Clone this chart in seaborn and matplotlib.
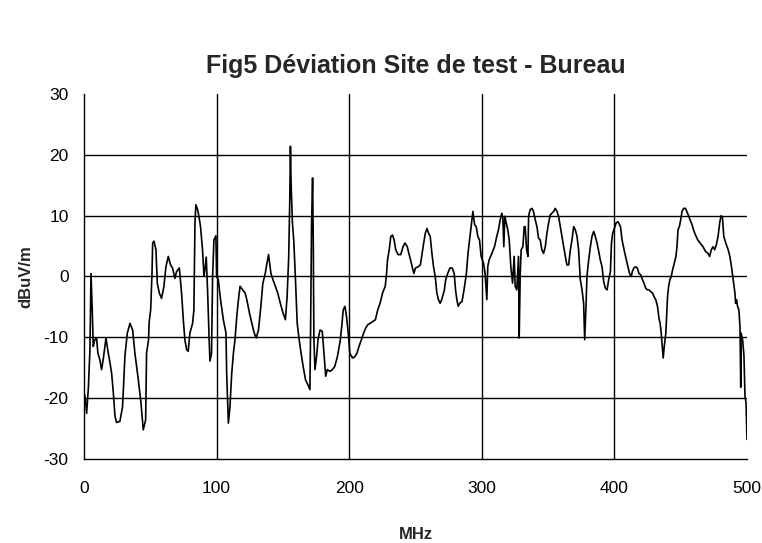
import pandas as pd
import matplotlib
matplotlib.use('Agg')
import matplotlib.pyplot as plt
import seaborn as sns

# valeurs (MHz, dBuV/m)
mhz = [0, 1, 2, 3.3, 4.5, 5.3, 6.3, 7, 8, 9.5, 10.5, 12, 13.3, 14.6, 16.6, 18.3,
       19.5, 20.9, 22.1, 23.4, 24.6, 27.1, 29.1, 30.9, 32.7, 34.7, 36.7, 38.4,
       41, 43, 44.7, 46.5, 47.2, 48.7, 49.2, 50.3, 51.3, 51.8, 52.8, 54.3, 55.3,
       56.8, 58.5, 60.3, 61.8, 63.6, 65.3, 66.8, 68.6, 69.8, 71.9, 73.6, 74.9,
       76.1, 77.4, 78.6, 79.9, 81.9, 82.9, 83.7, 84.4, 85.7, 86.9, 87.9, 89.4,
       90.5, 91.2, 92.2, 93.2, 94.4, 95, 96.2, 97, 98, 99.5, 100, 101.3, 103,
       105.1, 107.1, 107.6, 108.9, 110.1, 111.4, 112.7, 113.9, 115.2, 116.5,
       117.7, 119.7, 121.5, 122.8, 124.8, 126.6, 128.4, 129.9, 131.6, 133.4,
       134.9, 136.7, 138, 139.2, 140, 141, 142.5, 144.3, 146.1, 148.1, 150.1,
       151.9, 153.2, 154.4, 155.2, 155.7, 156.2, 157.2, 158.2, 159.5, 160.8,
       162, 163.3, 165.3, 167.1, 168.9, 170.4, 170.9, 171.6, 172.4, 172.9,
       173.4, 174.2, 175.4, 176.5, 178, 179.7, 181, 182.3, 183.5, 185.6, 187.3,
       189.1, 191.1, 193.2, 194.4, 195.5, 196.8, 198, 199.3, 200.5, 202.5,
       204.2, 205.9, 207.4, 209.2, 210.9, 212.4, 214.1, 215.8, 217.8, 219.8,
       221.5, 223.3, 225.2, 227.2, 228.2, 228.9, 230.2, 231.4, 232.7, 233.9,
       235.1, 236.9, 238.9, 240.6, 242.1, 243.8, 245, 246.3, 247.5, 248.8, 250,
       252, 253.7, 255, 256.2, 257.4, 258.7, 259.9, 261.1, 262.4, 263.6, 264.9,
       266.1, 267.3, 268.6, 269.8, 271.8, 272.8, 274.3, 276, 277.7, 279.2,
       280.2, 281.2, 282.2, 283.4, 285.1, 286.6, 288.4, 289.6, 290.8, 292.1,
       293.3, 294.6, 295.8, 297, 298.3, 299.5, 301.3, 302.5, 303.8, 304.5,
       305.5, 307.6, 309.6, 311.3, 312.6, 313.9, 315.1, 315.9, 316.6, 317.4,
       318.4, 319.6, 320.7, 321.9, 323.2, 324.4, 325.2, 326.4, 327.7, 328.2,
       329, 329.7, 331, 332, 332.7, 333.8, 334.8, 335.3, 336.5, 337.8, 339,
       340.3, 341.6, 342.8, 344.1, 345.3, 346.6, 347.9, 349.1, 350.4, 351.6,
       352.9, 354.2, 355.4, 356.7, 357.9, 359.2, 360.5, 361.7, 363, 364.2,
       365.5, 366.8, 368, 369.3, 370.5, 371.8, 373, 374.3, 375.6, 376.8, 377.6,
       378.6, 379.3, 380.6, 381.9, 383.1, 384.4, 385.6, 386.9, 388.2, 389.4,
       390.7, 391.9, 393.2, 394.5, 395.7, 397, 397.8, 398.7, 400, 401.3, 402.8,
       404.6, 405.8, 407.9, 409.6, 411.4, 412.7, 413.5, 414.7, 416, 417.3,
       418.5, 419.8, 421.1, 422.3, 423.6, 424.9, 426.1, 427.4, 428.7, 429.9,
       431.2, 432.5, 433.8, 434.5, 435.3, 436.3, 436.8, 437.6, 438.8, 440.1,
       440.9, 441.9, 442.9, 443.9, 445.2, 446.4, 447.2, 448, 449, 450, 451,
       452.3, 453.6, 454.6, 456.1, 457.1, 458.6, 459.6, 461.2, 462.9, 464.7,
       466.8, 468.8, 470.6, 471.8, 473.1, 474.4, 475.6, 476.9, 478.2, 479.4,
       480.5, 481.5, 482.5, 484, 485.8, 487.1, 488.3, 489.6, 490.4, 490.9,
       491.4, 492.1, 492.9, 493.9, 494.7, 495.3, 495.6, 496.2, 496.7, 497.2,
       497.7, 498.5, 499.3, 500]
dbuv = [-19, -20, -22.5, -18.4, -12, 0.5, -6, -11.5, -10.5, -10.1, -12.6, -13.7,
        -15.3, -13.5, -10.1, -12.6, -14, -16, -19, -23, -24, -23.8, -21.4, -13,
        -9.3, -7.7, -8.8, -12.6, -17, -20.8, -25.2, -23.6, -12.6, -10.4, -7.4,
        -5.5, 0.5, 5.5, 5.8, 4.4, -1.1, -2.7, -3.6, -1.6, 1.6, 3.3, 1.9, 1.4,
        -0.3, 0.8, 1.4, -2.7, -7.1, -10.4, -12, -12.3, -9.3, -7.7, -5.5, 8.8,
        11.8, 11, 9.6, 8.2, 4.4, 0, 1.1, 3.2, -2.2, -10.4, -13.9, -12.6, 0, 6,
        6.7, 0, -0.5, -3.8, -7.1, -9.3, -15.9, -24.1, -21.4, -16, -12.6, -10.4,
        -6.6, -3.8, -1.6, -2.2, -2.7, -3.8, -6, -7.7, -9.3, -10.1, -8.8, -4.9,
        -1.1, 0.5, 2.2, 3.6, 2.2, 0.5, -0.5, -1.6, -2.7, -4.4, -6, -7.1, -3.3,
        3.3, 12.6, 21.4, 15.3, 8.8, 6, -0.5, -7.7, -9.9, -12, -14.8, -17, -17.8,
        -18.6, -8.8, 8.2, 16.2, 6, -10.4, -15.3, -13.2, -10.4, -8.8, -9, -12.6,
        -16.4, -15.3, -15.6, -15.3, -14.8, -13.2, -10.6, -8.2, -5.5, -4.9, -6.6,
        -9.3, -12.6, -13.4, -13.2, -12.6, -11.5, -10.4, -9.3, -8.5, -7.9, -7.7,
        -7.4, -7.1, -5.5, -4.4, -2.7, -1.6, 0.5, 2.7, 4.4, 6.6, 6.8, 6, 4.4, 3.6,
        3.6, 4.9, 5.5, 4.9, 3.8, 2.7, 1.6, 0.5, 1.4, 1.6, 1.9, 3.8, 5.5, 7.1,
        7.9, 7.1, 6.6, 3.8, 1.6, 0, -2.7, -3.8, -4.4, -3.8, -2.2, -0.5, 0.5, 1.4,
        1.4, 0.5, -2.2, -3.8, -4.9, -4.4, -4.1, -2.2, 0.5, 3.8, 6, 8.5, 10.7,
        8.5, 8.2, 6.6, 6, 3.3, 2.2, 0.5, -3.8, 1.6, 2.7, 3.8, 4.9, 6.6, 7.7, 9.3,
        10.4, 9.6, 4.9, 9.9, 8.8, 7.7, 6, 1.6, -1.1, 3.3, -1.6, -2.2, 3.3, -10.1,
        0.5, 4.4, 4.9, 8.2, 8.2, 4.4, 3.3, 9.9, 11, 11.2, 10.7, 9.3, 8.2, 6.3,
        6, 4.4, 3.8, 4.9, 7.1, 8.8, 10.1, 10.4, 10.7, 11.2, 10.7, 9.9, 8.2, 6.6,
        4.9, 3.3, 1.9, 1.9, 4.4, 6, 8.2, 7.7, 6.6, 4.4, -0.5, -2.2, -4.4, -10.4,
        -4.9, 0, 2.7, 4.9, 6.6, 7.4, 6.6, 5.5, 4.1, 2.7, 1.6, -0.8, -1.9, -2.2,
        -0.5, 0.8, 5.5, 7.1, 7.9, 8.8, 9, 8.2, 6, 3.8, 2.2, 0.5, 0, 0.8, 1.4,
        1.6, 1.4, 0.5, 0.3, -0.5, -1.1, -1.9, -2.2, -2.2, -2.5, -2.7, -3.3,
        -3.8, -4.9, -7.1, -7.7, -9.3, -12, -13.4, -11.5, -9.3, -3.3, -1.6, -0.5,
        0, 1.1, 2.2, 3.3, 4.9, 7.7, 8.2, 9.3, 10.7, 11.2, 11.2, 10.7, 9.9, 9.3,
        8.5, 7.7, 6.8, 6, 5.5, 4.9, 4.1, 3.8, 3.3, 4.4, 4.9, 4.4, 5.2, 6.6, 8.8,
        10, 9.7, 6.6, 5.5, 4.4, 3.3, 1.6, -0.5, -1.9, -2.7, -4.4, -3.8, -4.9,
        -5.5, -8.2, -18.2, -9.3, -10, -10.4, -11.8, -13, -19.7, -20.8, -26.8]

df = pd.DataFrame({'MHz': mhz, 'dBuV/m': dbuv})

sns.set_style('white')
plt.rcParams['font.family'] = ['Liberation Sans', 'DejaVu Sans']
plt.rcParams['axes.unicode_minus'] = False

fig = plt.figure(figsize=(7.62, 5.43), dpi=100)
ax = fig.add_axes([0.1102, 0.1547, 0.8701, 0.6722])

sns.lineplot(data=df, x='MHz', y='dBuV/m', estimator=None, sort=False,
             color='black', linewidth=1.2, ax=ax)

ax.set_xlim(0, 500)
ax.set_ylim(-30, 30)
ax.set_xticks(range(0, 501, 100))
ax.set_yticks(range(-30, 31, 10))
ax.grid(True, color='black', linewidth=1.0)
# pas de grille sur les bords (comme Excel)
xg = ax.get_xgridlines()
xg[0].set_visible(False)
xg[-1].set_visible(False)
yg = ax.get_ygridlines()
yg[0].set_visible(False)
yg[-1].set_visible(False)
ax.set_axisbelow(True)

for s in ['top', 'right']:
    ax.spines[s].set_visible(False)
for s in ['left', 'bottom']:
    ax.spines[s].set_color('black')
    ax.spines[s].set_linewidth(1.0)

ax.tick_params(direction='out', length=5, width=1, colors='black',
               labelsize=12.5, pad=6)
ax.tick_params(axis='x', pad=11)

ax.set_title('Fig5 Déviation Site de test - Bureau', fontsize=18, fontweight='bold',
             pad=15)
ax.set_xlabel('MHz', fontsize=12, fontweight='bold', labelpad=22)
ax.set_ylabel('dBuV/m', fontsize=12, fontweight='bold', labelpad=7)

plt.savefig('out.png', dpi=100)
